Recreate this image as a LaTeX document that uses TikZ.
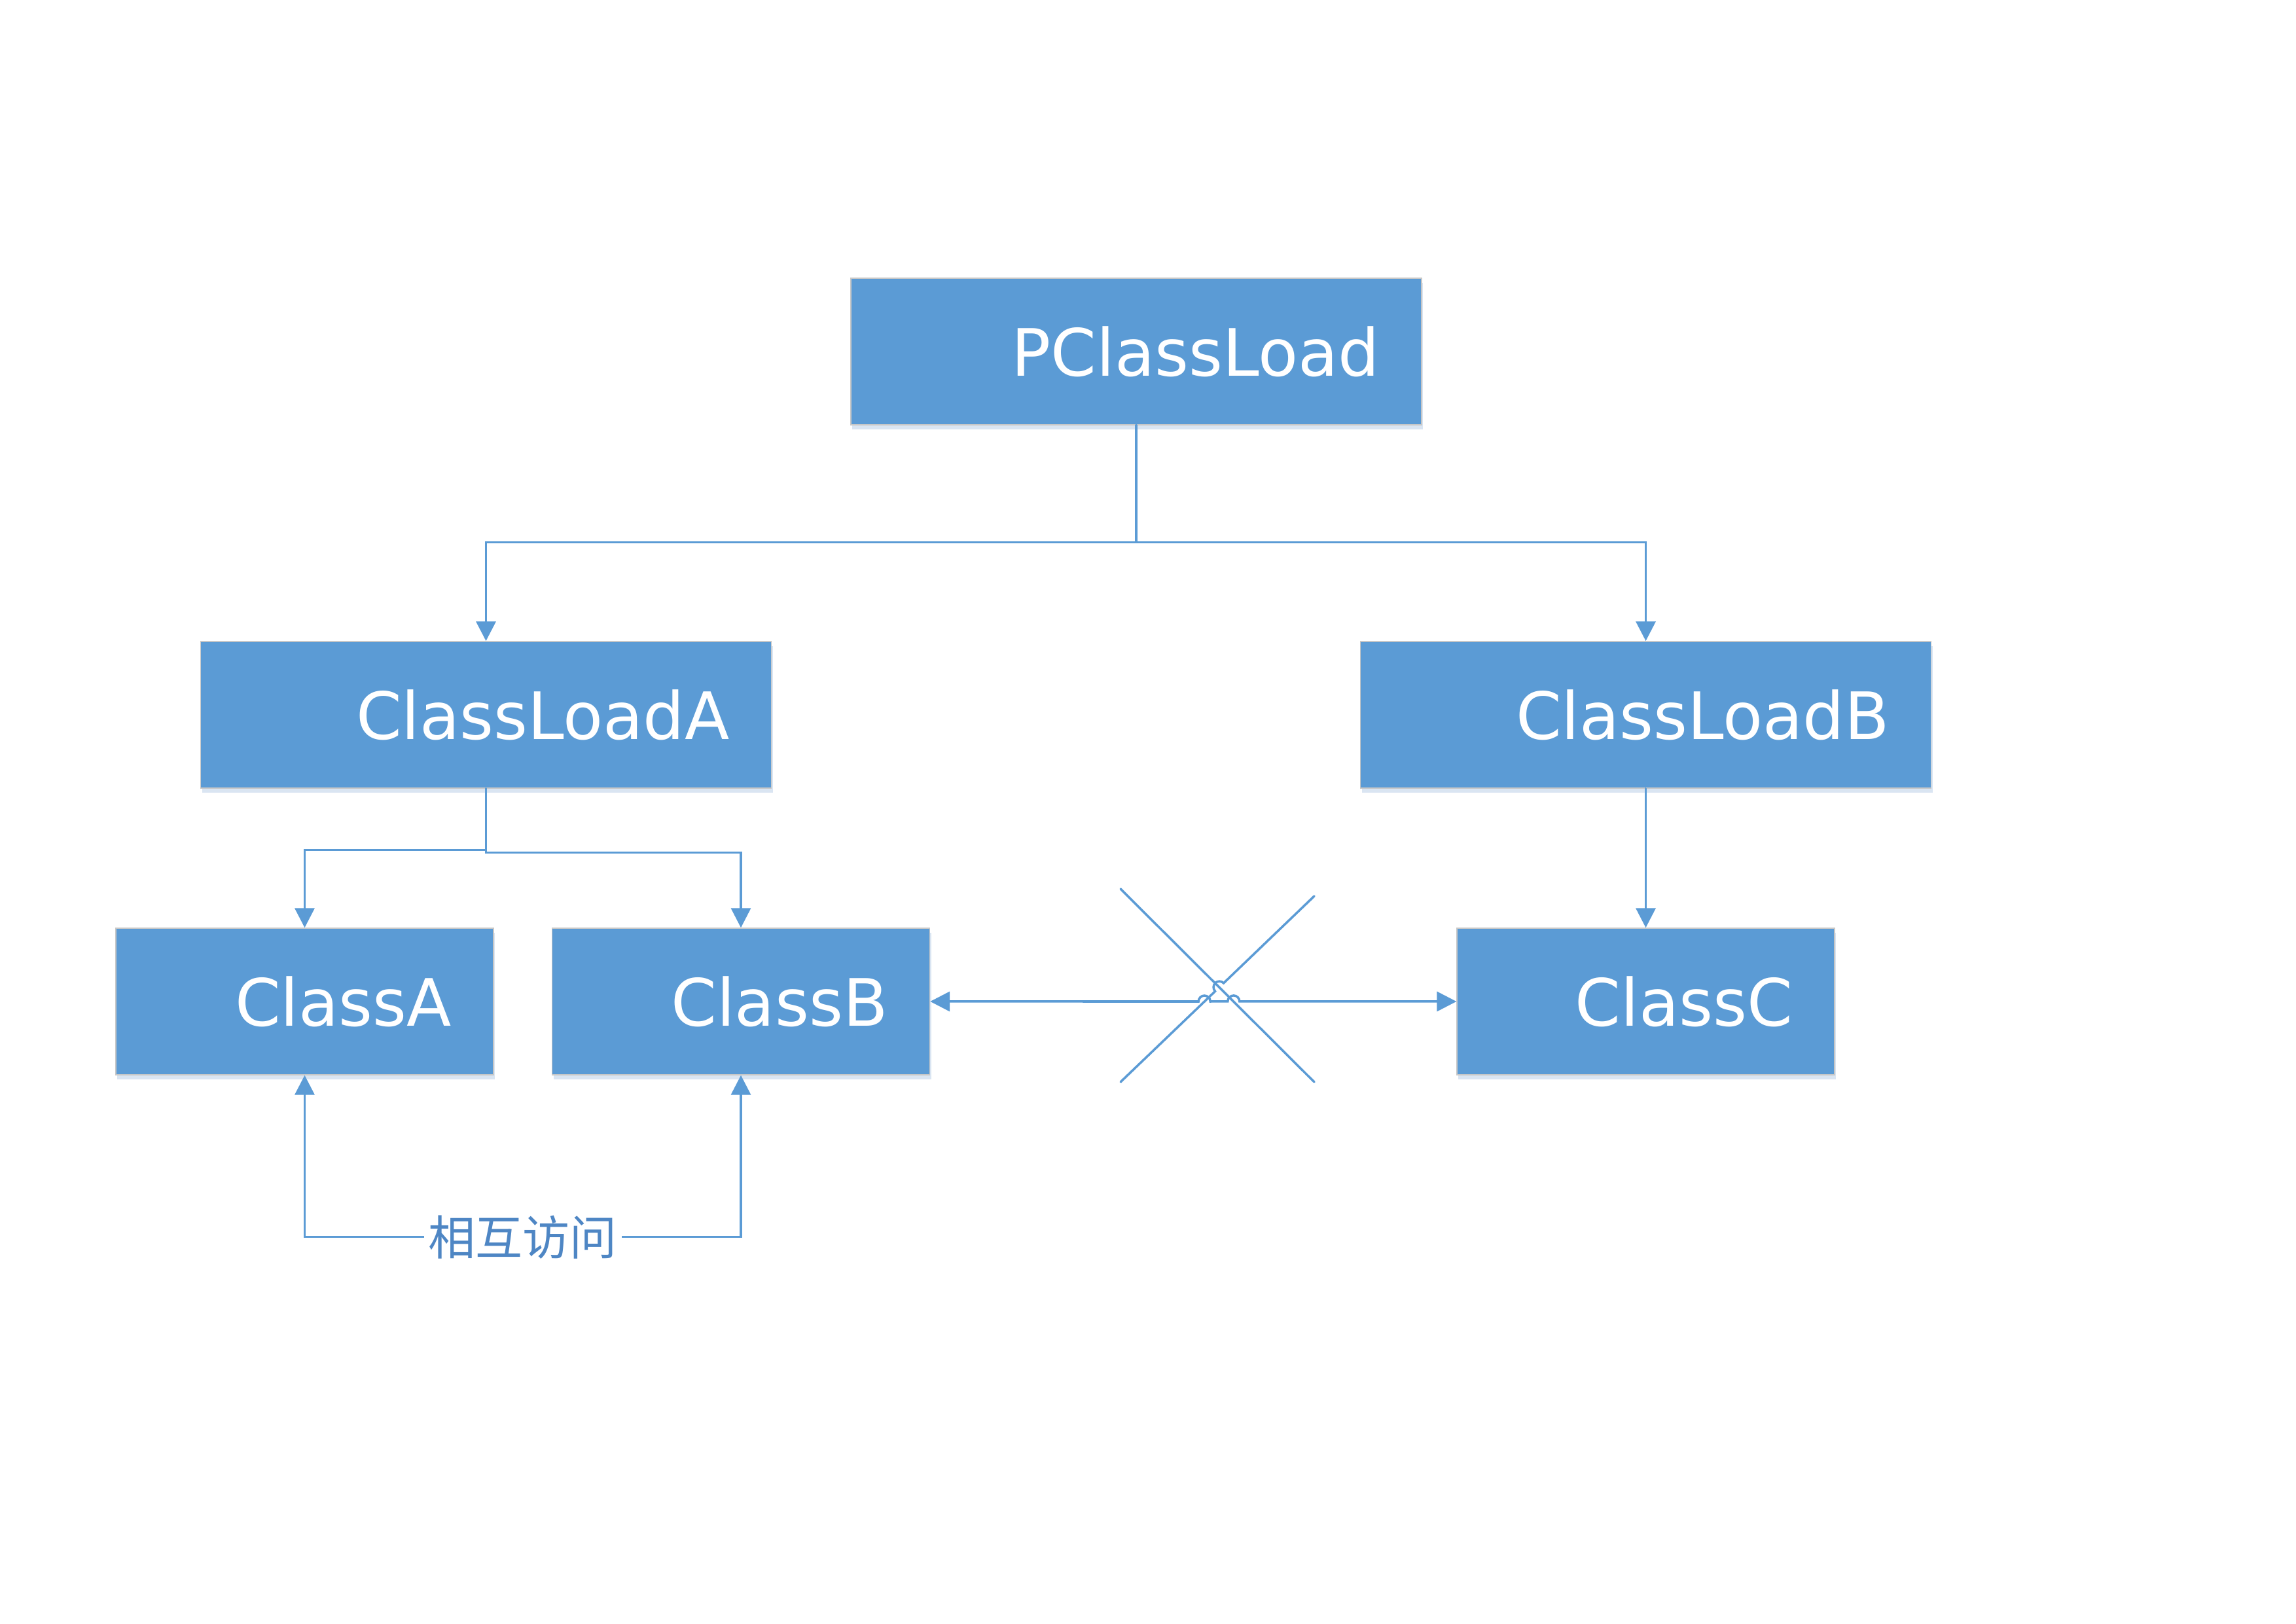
\documentclass[tikz,border=0pt]{standalone}
\usepackage{fontspec}
\usepackage{tikz}
\usetikzlibrary{arrows.meta}
\usetikzlibrary{calc}
\usetikzlibrary{shadows}
\usepackage{xcolor}
\newfontfamily\boxfont{DejaVu Sans}
\newfontfamily\cjkfont{Noto Sans CJK SC}
\definecolor{loadblue}{HTML}{5B9BD5}
\definecolor{lineblue}{HTML}{5B9BD5}
\definecolor{shadeblue}{HTML}{DAE5F2}
\definecolor{labelblue}{HTML}{4E86C4}

\begin{document}
\begin{tikzpicture}[
	loadbox/.style={rectangle, fill=loadblue, draw=black!22, line width=0.4pt, text=white,
		font=\boxfont\fontsize{28.4}{33}\selectfont, minimum height=2.24cm, inner xsep=6.4mm, align=right,
		drop shadow={shadow xshift=0.02cm, shadow yshift=-0.07cm, fill=shadeblue, opacity=1}},
	wide/.style={loadbox, text width=7.44cm},
	narrow/.style={loadbox, text width=4.49cm},
	conn/.style={draw=lineblue, line width=1pt, line cap=round},
	arr/.style={-{Triangle[length=3mm,width=3mm]}},
	biarr/.style={{Triangle[length=3mm,width=3mm]}-{Triangle[length=3mm,width=3mm]}},
	]
	\useasboundingbox (0,0) rectangle (35.08,24.80);
	
	% loaders and classes
	\node[wide] (PClassLoad) at (17.36,19.43) {PClassLoad};
	\node[wide] (ClassLoadA) at (7.425,13.88) {ClassLoadA};
	\node[wide] (ClassLoadB) at (25.145,13.88) {ClassLoadB};
	\node[narrow] (ClassA) at (4.655,9.50) {ClassA};
	\node[narrow] (ClassB) at (11.32,9.50) {ClassB};
	\node[narrow] (ClassC) at (25.145,9.50) {ClassC};
	
	% parent -> children
	\coordinate (pjoin) at ([yshift=-1.79cm]PClassLoad.south);
	\draw[conn,arr] (PClassLoad.south) -- (pjoin) -| (ClassLoadA.north);
	\draw[conn,arr] (pjoin) -| (ClassLoadB.north);
	\draw[conn,arr] (ClassLoadA.south) -- ++(0,-0.94) -| (ClassA.north);
	\draw[conn,arr] (ClassLoadA.south) -- ++(0,-0.98) -| (ClassB.north);
	\draw[conn,arr] (ClassLoadB.south) -- (ClassC.north);
	
	% the cross
	\coordinate (xa1) at (17.12,11.22);
	\coordinate (xa2) at (20.08,8.27);
	\coordinate (xb1) at (20.08,11.11);
	\coordinate (xb2) at (17.12,8.27);
	\coordinate (hop1) at (intersection of xb1--xb2 and ClassB.east--ClassC.west);
	\coordinate (hop2) at (intersection of xa1--xa2 and ClassB.east--ClassC.west);
	\coordinate (hopx) at (intersection of xa1--xa2 and xb1--xb2);
	\draw[conn] (xa1) -- (xa2);
	\draw[conn] (xb1) -- ($(hopx)+(43.8:0.09)$) arc[start angle=43.8,end angle=223.8,radius=0.09] -- (xb2);
	
	% B <-> C, with line jumps
	\draw[conn,biarr] (ClassB.east) -- ([xshift=-0.09cm]hop1)
	arc[start angle=180,end angle=0,radius=0.09] -- ([xshift=-0.09cm]hop2)
	arc[start angle=180,end angle=0,radius=0.09] -- (ClassC.west);
	
	% A <-> B
	\coordinate (accA) at ([yshift=-2.47cm]ClassA.south);
	\draw[conn,biarr] (ClassA.south) -- (accA)
	-- node[fill=white, text=labelblue, font=\cjkfont\fontsize{20.5}{24}\selectfont, inner xsep=0.7mm, inner ysep=0pt] {相互访问} (accA -| ClassB.south)
	-- (ClassB.south);
\end{tikzpicture}
\end{document}
